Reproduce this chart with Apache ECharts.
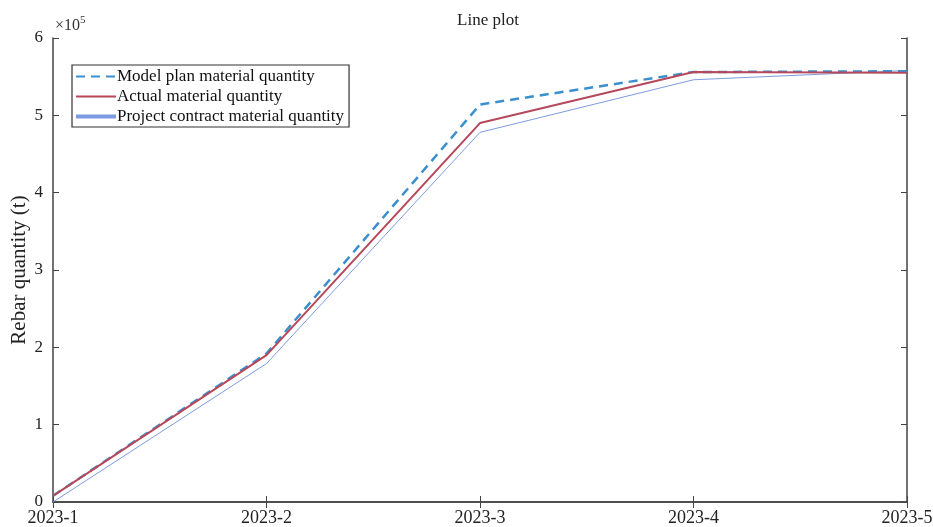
<!DOCTYPE html>
<html>
<head>
<meta charset="utf-8">
<title>Line plot</title>
<script src="https://cdn.jsdelivr.net/npm/echarts@6/dist/echarts.min.js"></script>
<style>
 html, body { margin: 0; padding: 0; background: #fff; }
 #main { width: 933px; height: 527px; }
</style>
</head>
<body>
<div id="main"></div>
<script>
 // 数据
 var months = ['2023-1', '2023-2', '2023-3', '2023-4', '2023-5'];
 var modelPlan = [8000, 192000, 514000, 556000, 557000];
 var actual = [8000, 190000, 490000, 556000, 555000];
 var contract = [0, 179000, 478000, 546000, 558000];
 var yTicks = [0, 100000, 200000, 300000, 400000, 500000, 600000];

 var font = 'Liberation Serif';
 var axisColor = '#444';

 var myChart = echarts.init(document.getElementById('main'));

 var baseX = {
   type: 'category',
   data: months,
   boundaryGap: false,
   axisLine: { lineStyle: { color: axisColor, width: 1.5 } },
   axisTick: { inside: true, length: 6, lineStyle: { color: axisColor } },
   splitLine: { show: false }
 };
 var baseY = {
   type: 'value',
   min: yTicks[0],
   max: yTicks[yTicks.length - 1],
   interval: 100000,
   axisLine: { show: true, lineStyle: { color: axisColor, width: 1.5 } },
   axisTick: { show: true, inside: true, length: 6, lineStyle: { color: axisColor } },
   splitLine: { show: false }
 };

 var option = {
   animation: false,
   textStyle: { fontFamily: font },
   title: {
     text: 'Line plot',
     left: 483,
     textAlign: 'center',
     top: 7,
     textStyle: { fontFamily: font, fontSize: 17, fontWeight: 'normal', color: '#222' }
   },
   grid: { left: 53, right: 26, top: 38, bottom: 25, outerBoundsMode: 'none', containLabel: false },
   legend: {
     left: 72,
     top: 65,
     orient: 'vertical',
     itemWidth: 40,
     itemHeight: 14,
     itemGap: 3,
     padding: [3, 5, 2, 2],
     borderColor: '#333',
     borderWidth: 1.2,
     backgroundColor: '#fff',
     itemStyle: { opacity: 0 },
     textStyle: { fontFamily: font, fontSize: 17, lineHeight: 16, color: '#111', padding: [0, 0, 0, -4] },
     data: [
       { name: 'Model plan material quantity' },
       { name: 'Actual material quantity' },
       { name: 'Project contract material quantity', lineStyle: { width: 4 } }
     ]
   },
   xAxis: [
     Object.assign({}, baseX, {
       axisLabel: { color: '#222', fontSize: 18, fontFamily: font, margin: 7 }
     }),
     Object.assign({}, baseX, { position: 'top', axisLabel: { show: false } })
   ],
   yAxis: [
     Object.assign({}, baseY, {
       name: 'Rebar quantity (t)',
       nameLocation: 'middle',
       nameGap: 23,
       nameMoveOverlap: false,
       nameTextStyle: { fontFamily: font, fontSize: 21, color: '#222' },
       axisLabel: {
         color: '#222', fontSize: 17, fontFamily: font, margin: 10,
         formatter: function (v) { return v / 100000; }
       }
     }),
     Object.assign({}, baseY, { position: 'right', axisLabel: { show: false } })
   ],
   graphic: [{
     type: 'text',
     left: 55,
     top: 15,
     style: {
       rich: {
         a: { fontFamily: font, fontSize: 16, fill: '#333' },
         s: { fontFamily: font, fontSize: 11, fill: '#333', verticalAlign: 'top', padding: [0, 0, 10, 0] }
       },
       text: '{a|×10}{s|5}'
     }
   }],
   series: [
     {
       name: 'Model plan material quantity',
       type: 'line',
       data: modelPlan,
       symbol: 'none',
       lineStyle: { color: '#3a8fcf', width: 2.5, type: [9, 6] },
       itemStyle: { color: '#3a8fcf' },
       z: 3
     },
     {
       name: 'Actual material quantity',
       type: 'line',
       data: actual,
       symbol: 'none',
       lineStyle: { color: '#b5485a', width: 2 },
       itemStyle: { color: '#b5485a' },
       z: 4
     },
     {
       name: 'Project contract material quantity',
       type: 'line',
       data: contract,
       symbol: 'none',
       lineStyle: { color: '#7d9be0', width: 1 },
       itemStyle: { color: '#7d9be0' },
       z: 2
     }
   ]
 };

 myChart.setOption(option);
</script>
</body>
</html>
